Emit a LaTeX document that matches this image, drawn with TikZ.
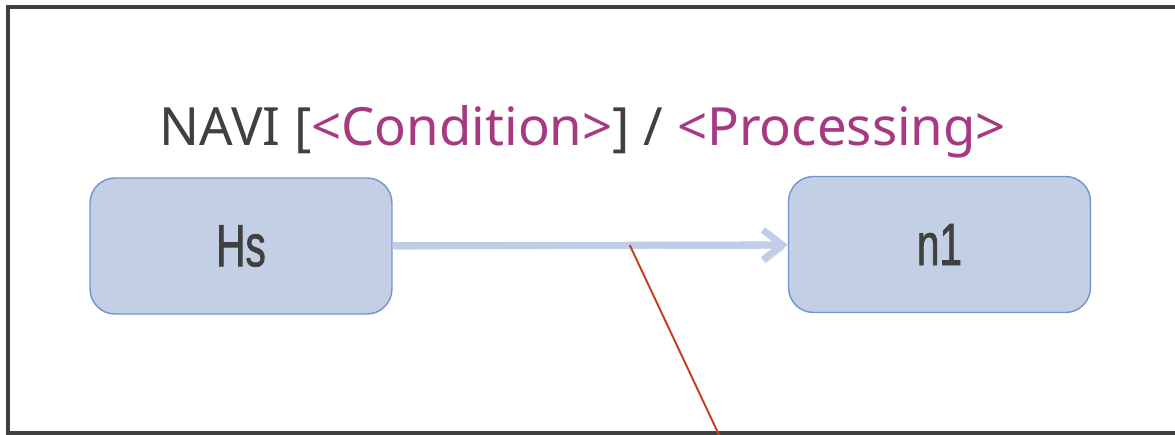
\documentclass[tikz,border=0pt]{standalone}
\usepackage{fontspec}
\setmainfont{Noto Sans}
\newfontfamily\boxfont[FakeStretch=0.68,FakeBold=1.2]{Liberation Sans}
\usepackage{tikz}
\usetikzlibrary{arrows.meta,positioning,calc}
\definecolor{framegray}{RGB}{64,64,64}
\definecolor{textgray}{RGB}{64,64,64}
\definecolor{guardpurple}{RGB}{166,58,128}
\definecolor{stateblue}{RGB}{195,207,229}
\definecolor{stateedge}{RGB}{114,147,205}
\definecolor{transblue}{RGB}{191,205,230}
\definecolor{leaderred}{RGB}{196,62,28}

\begin{document}
\begin{tikzpicture}[
        x=0.02cm, y=-0.02cm,
        statebox/.style={rectangle, rounded corners=0.5cm, draw=stateedge, line width=0.8pt, fill=stateblue,
            minimum width=6.04cm, minimum height=2.72cm, text=textgray, font=\boxfont\fontsize{34}{38}\selectfont},
        title/.style={text=textgray, font=\fontsize{30}{35}\selectfont, inner sep=0pt},
        trans/.style={draw=transblue, line width=3.9pt, -{Straight Barb[length=11pt, width=17pt, line width=3.9pt]},
            preaction={draw=black!40, opacity=0.45, transform canvas={shift={(1.2pt,-2pt)}}}}
    ]
        \useasboundingbox (0,0) rectangle (1175,435);
        \begin{scope}
            \clip (0,0) rectangle (1175,435);
            \draw[framegray, line width=2.3pt] (8,7) rectangle (1190,433);
        \end{scope}

        \node[title, anchor=base west] (lbl) at (159,146) {NAVI [\textcolor{guardpurple}{<Condition>}] / \textcolor{guardpurple}{<Processing>}};

        \node[statebox] (hs) at (241,246) {Hs};
        \node[statebox] (n1) at (939.5,244.5) {n1};

        \draw[trans] (hs) -- (n1) coordinate[pos=0.6] (tp);
        \coordinate (lead) at (720,437);
        \draw[leaderred, line width=1.1pt] (tp) -- (lead);
    \end{tikzpicture}
\end{document}
